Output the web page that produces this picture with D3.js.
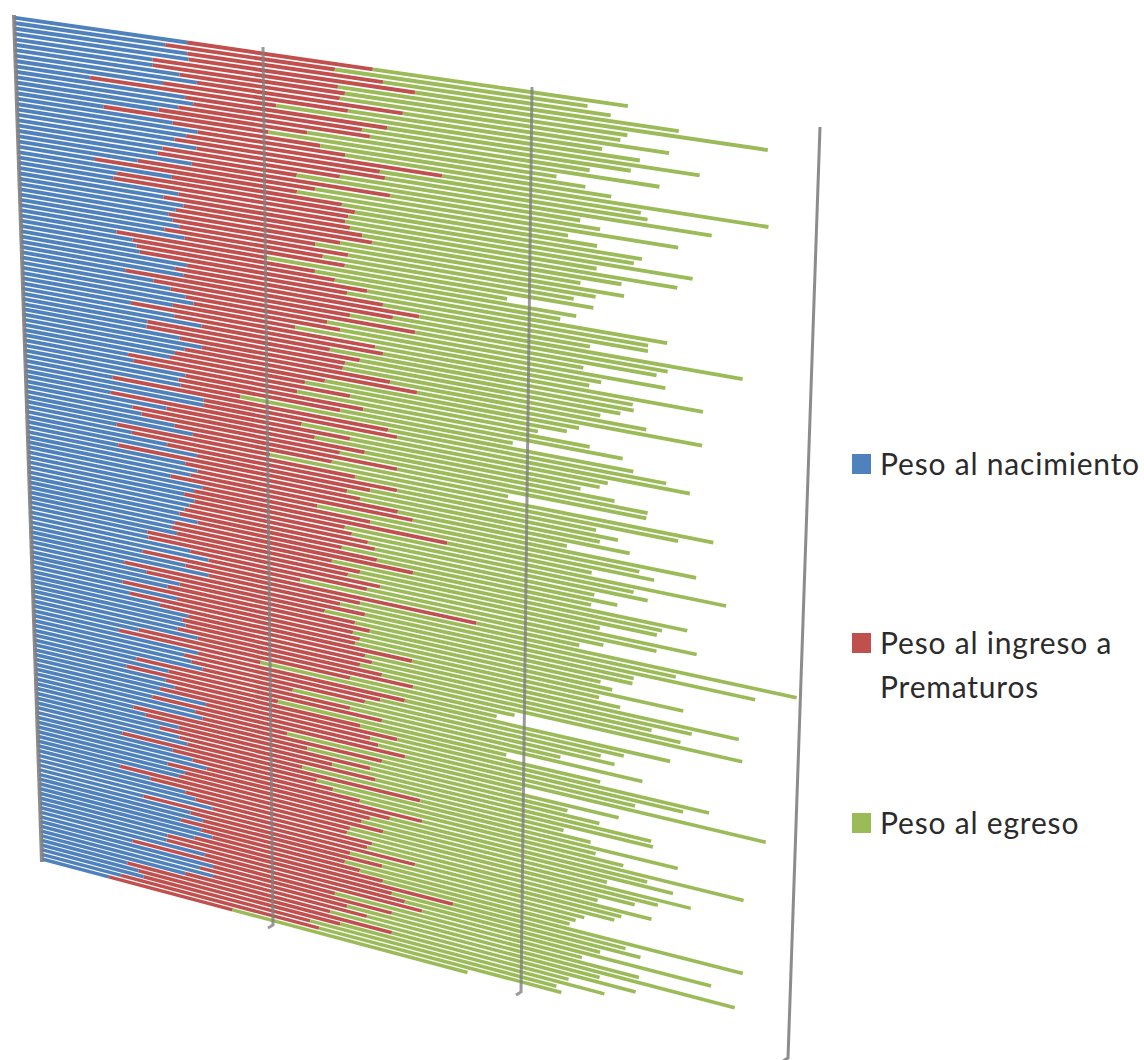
<!DOCTYPE html>
<html><head><meta charset="utf-8">
<style>html,body{margin:0;padding:0;background:#fff}svg{display:block}</style>
<script src="https://cdnjs.cloudflare.com/ajax/libs/d3/7.8.5/d3.min.js"></script>
</head><body><div id="chart"></div>
<script>
const pesoNacimiento=[695,607,695,700,555,555,663,732,595,301,683,716,655,575,353,631,732,
685,637,726,588,568,706,486,312,624,401,385,649,588,669,637,608,624,
650,589,671,393,458,474,487,679,630,663,425,540,609,671,703,618,446,
623,734,512,508,644,734,664,623,602,429,450,664,635,644,363,738,
736,354,583,442,479,616,691,375,437,583,707,379,657,707,678,595,728,
692,650,692,671,650,629,705,609,596,617,492,496,671,747,471,650,747,
392,484,624,573,383,611,413,539,657,632,645,611,696,446,362,696,
637,667,713,433,569,391,556,594,531,726,497,679,709,416,467,607,527,
609,643,365,579,664,724,557,630,604,352,480,630,673,745,450,651,703,
609,696,743,665,549,545,709,398,743,687,743,622,372,420,441,343,290];
const pesoIngreso=[713,660,751,865,723,749,622,788,720,746,778,651,742,587,664,580,572,
982,797,727,696,554,766,704,810,667,939,929,654,733,698,767,676,566,
663,629,630,616,730,789,898,630,815,919,1058,780,958,562,579,494,969,
822,509,845,792,648,738,911,600,545,890,667,705,646,247,1101,761,
397,964,600,933,800,883,557,635,900,916,688,927,699,795,882,596,667,
1001,647,632,715,763,656,716,952,650,738,816,937,711,375,1338,705,530,
982,733,711,820,944,743,922,1019,717,769,709,829,866,869,599,834,
796,706,376,881,871,639,798,906,862,699,1034,386,731,728,926,636,886,
516,948,816,666,688,875,914,762,755,1092,832,670,727,635,1121,661,737,
682,655,700,1059,930,986,891,853,736,612,636,609,1107,851,709,843,535];
const pesoEgreso=[925,926,828,946,1543,1029,1024,959,931,1331,1126,980,807,1286,1072,979,977,
1164,951,956,1350,1052,772,1328,1010,943,1052,1050,1268,913,1151,918,894,1142,
919,937,924,906,977,846,1102,1111,975,633,1273,1171,885,960,1202,1145,800,
1174,1127,1017,1027,964,948,1044,958,991,716,1103,969,661,1486,1031,1081,
1154,940,1007,937,1152,928,678,1658,1205,749,932,956,1014,642,1050,1215,1065,
542,1423,1063,1052,833,1044,814,1022,1246,1119,960,1186,1092,1160,386,1629,1269,
1461,1177,1055,881,990,1222,935,789,1406,1208,1109,1129,1233,646,930,1003,
931,907,1242,819,994,900,926,1180,1192,984,1359,928,910,1018,887,1228,1065,
1024,658,1390,1023,1019,1217,989,1164,953,1179,1189,1116,879,1099,797,1030,791,
908,826,1379,662,963,761,1106,974,959,1497,913,1196,698,1040,982,965,959];
const seriesNames=["Peso al nacimiento","Peso al ingreso a Prematuros","Peso al egreso"];
const seriesColors=["#4f81bd","#c0504d","#9bbb59"];
const axisTicks=[0,1000,2000,3000];

const W=1144,H=1060;
// wall corners of the 3D plot, at the first and the last category
const topX=[14,263,532,820], botX=[42,273,521,788];
const topY=[17.6,53.5,92.3,133.8], botY=[859,920,987,1058];
const N=pesoNacimiento.length, persp=0.08;
const rows=d3.range(N).map(i=>({i,a:pesoNacimiento[i],b:pesoIngreso[i],c:pesoEgreso[i]}));
const stacked=d3.stack().keys(["a","b","c"])(rows);
const rowT=d3.scaleLinear().domain([0,N-1]).range([0,1]);
const depth=i=>{const s=rowT(i);return s*(1+persp)/(1+persp*s);};
const xScale=i=>{const t=rowT(i);return d3.scaleLinear().domain(axisTicks).range(topX.map((x,k)=>x+(botX[k]-x)*t));};
const yScale=i=>{const d=depth(i);
  const x0=topX[0]+(botX[0]-topX[0])*rowT(i), x3=topX[3]+(botX[3]-topX[3])*rowT(i);
  const y0=topY[0]+(botY[0]-topY[0])*d, y3=topY[3]+(botY[3]-topY[3])*d;
  return d3.scaleLinear().domain([x0,x3]).range([y0,y3]);};

const svg=d3.select("#chart").append("svg").attr("width",W).attr("height",H);
const defs=svg.append("defs");
defs.append("filter").attr("id","soft").attr("x","-5%").attr("y","-5%").attr("width","110%").attr("height","110%")
  .append("feGaussianBlur").attr("stdDeviation",0.5);
const plot=svg.append("g").attr("filter","url(#soft)");

stacked.forEach((layer,k)=>{
  plot.append("g").attr("stroke",seriesColors[k]).attr("fill","none")
   .selectAll("line").data(layer).join("line")
   .attr("stroke-width",(d,i)=>3.9-0.4*rowT(i))
   .attr("x1",(d,i)=>xScale(i)(d[0]))
   .attr("x2",(d,i)=>xScale(i)(d[1]))
   .attr("y1",(d,i)=>yScale(i)(xScale(i)(d[0])))
   .attr("y2",(d,i)=>yScale(i)(xScale(i)(d[1])));
});

// gridlines (value axis) over the bars
const grid=plot.append("g").attr("fill","none").attr("stroke","#7f7f7f");
const gridLine=d3.line();
const gridTops=[15,47,87,127], gridBots=[862,925,992,1058];
axisTicks.forEach((v,k)=>{
  const xs=d3.scaleLinear().domain([0,1]).range([topX[k],botX[k]]);
  const ys=d3.scaleLinear().domain([0,1]).range([gridTops[k],gridBots[k]]);
  const pts=[[xs(0),ys(0)],[xs(1),ys(1)]];
  if(k>0) pts.push([xs(1)-5,ys(1)+3]);
  grid.append("path").attr("d",gridLine(pts))
    .attr("stroke-width",k===0?4:3).attr("stroke-opacity",k===0||k===3?0.9:0.8);
});

// legend
const legend=svg.append("g").attr("font-family","Lato, 'Open Sans', sans-serif").attr("font-size",30)
  .attr("letter-spacing",0.8).attr("fill","#2b2b2b");
const legendY=[454,633,813];
const legendLines=[["Peso al nacimiento"],["Peso al ingreso a","Prematuros"],["Peso al egreso"]];
seriesNames.forEach((n,k)=>{
  legend.append("rect").attr("x",852).attr("y",legendY[k]).attr("width",19).attr("height",20).attr("fill",seriesColors[k]);
  legendLines[k].forEach((t,j)=>legend.append("text").attr("x",880).attr("y",legendY[k]+21+j*44).text(t));
});
</script></body></html>
